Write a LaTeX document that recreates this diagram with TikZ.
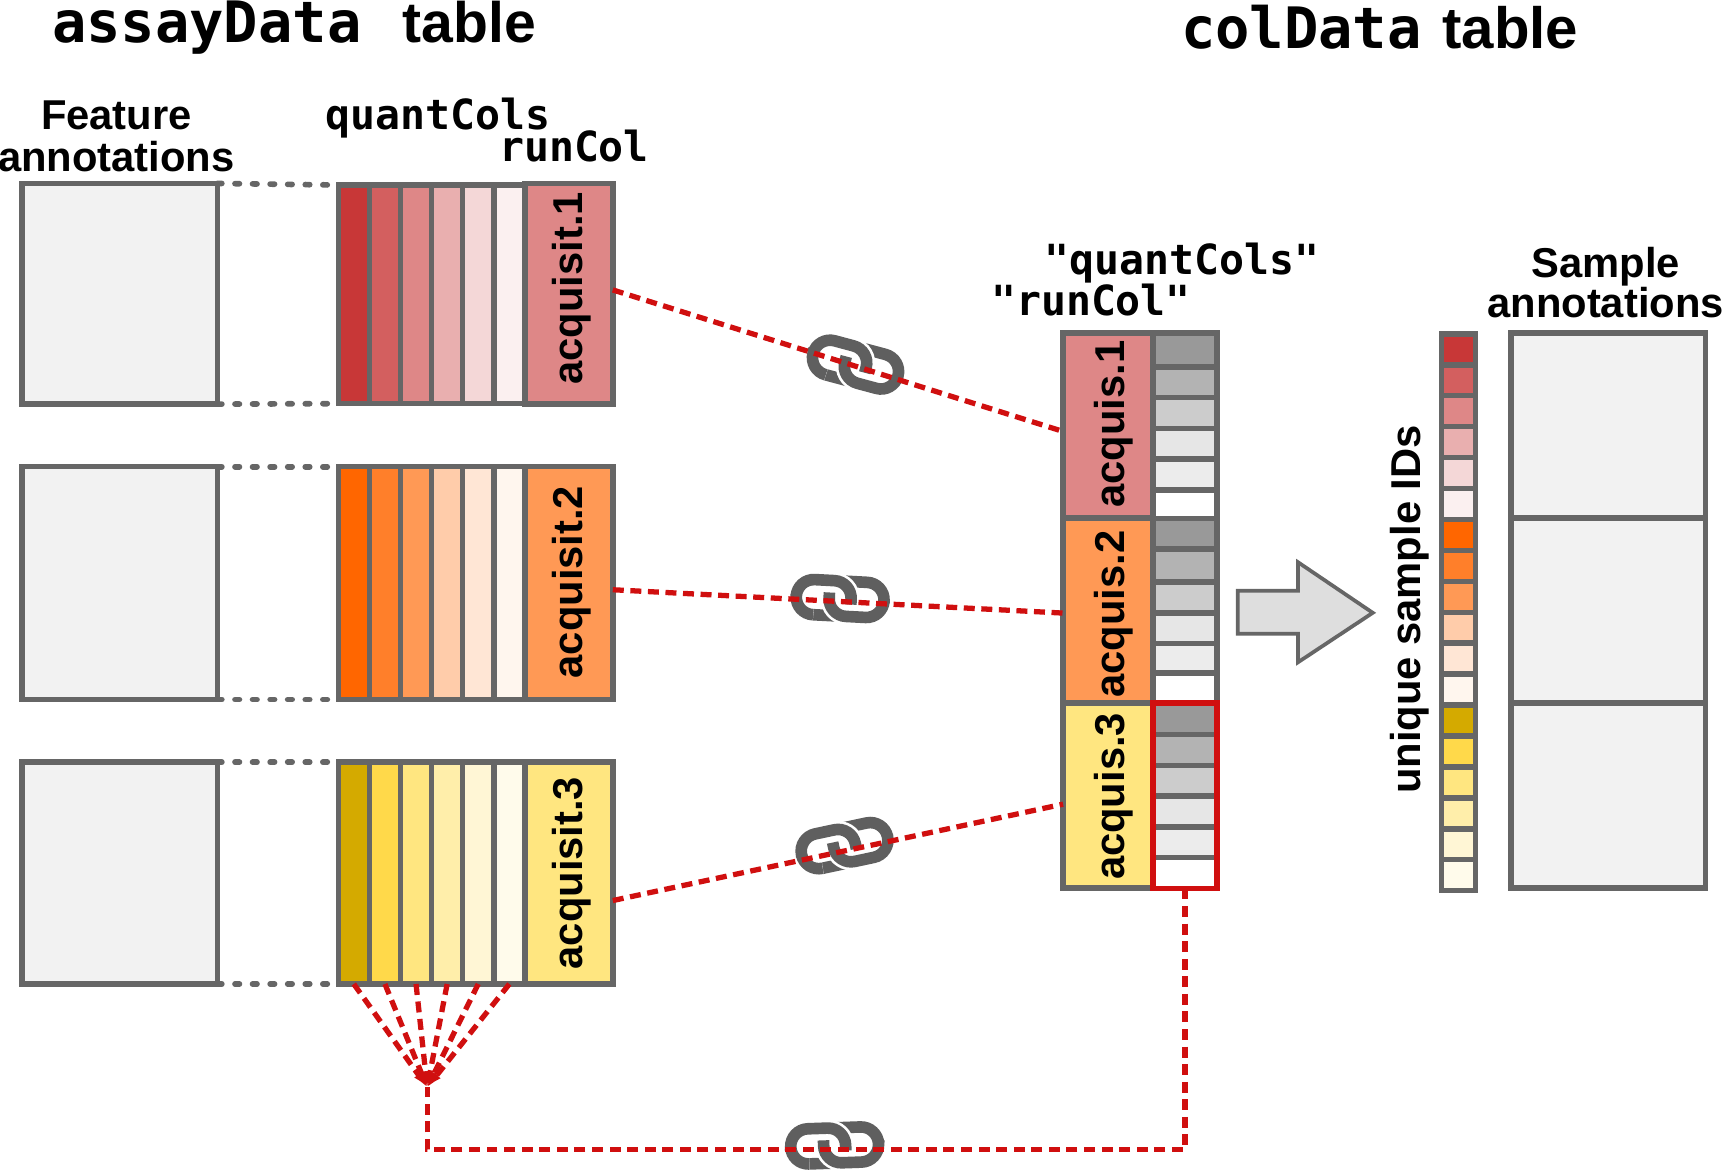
\documentclass[tikz,border=0pt]{standalone}
\usepackage{fontspec}
\setmainfont{Liberation Sans}
\newfontfamily\monofnt{DejaVu Sans Mono}
\usepackage{xcolor}
\usetikzlibrary{arrows.meta,positioning,calc}

\definecolor{edgegray}{HTML}{666666}
\definecolor{linkgray}{HTML}{5F5F5F}
\definecolor{boxgray}{HTML}{F2F2F2}
\definecolor{arrowgray}{HTML}{DEDEDE}
\definecolor{linkred}{HTML}{D00F0F}
% colour ramps, one per acquisition
\definecolor{c11}{HTML}{C83737}\definecolor{c12}{HTML}{D35F5F}\definecolor{c13}{HTML}{DE8787}
\definecolor{c14}{HTML}{E9AFAF}\definecolor{c15}{HTML}{F4D7D7}\definecolor{c16}{HTML}{FBF0F0}
\definecolor{c21}{HTML}{FF6600}\definecolor{c22}{HTML}{FF7F2A}\definecolor{c23}{HTML}{FF9955}
\definecolor{c24}{HTML}{FFCCAA}\definecolor{c25}{HTML}{FFE6D5}\definecolor{c26}{HTML}{FFF6EE}
\definecolor{c31}{HTML}{D4AA00}\definecolor{c32}{HTML}{FFD94A}\definecolor{c33}{HTML}{FFE680}
\definecolor{c34}{HTML}{FFEEAA}\definecolor{c35}{HTML}{FFF6D5}\definecolor{c36}{HTML}{FFFBEB}
\definecolor{g1}{HTML}{999999}\definecolor{g2}{HTML}{B3B3B3}\definecolor{g3}{HTML}{CCCCCC}
\definecolor{g4}{HTML}{E6E6E6}\definecolor{g5}{HTML}{ECECEC}\definecolor{g6}{HTML}{FFFFFF}

\tikzset{
  ringline/.style={line width=5.3pt, linkgray, rounded corners=8pt},
  ringhalo/.style={line width=7.7pt, white, rounded corners=8pt},
  linkicon/.pic={
    \draw [ringline] (-2,16) -- (-26,16);
    \draw [ringhalo] (2,-16) -- (40,-16) -- (40,16) -- (-10,16) -- (-10,-5);
    \draw [ringline] (2,-16) -- (40,-16) -- (40,16) -- (-10,16) -- (-10,-5);
    \draw [ringhalo] (-26,16) -- (-40,16) -- (-40,-16) -- (10,-16) -- (10,5);
    \draw [ringline] (-25,16) -- (-40,16) -- (-40,-16) -- (10,-16) -- (10,5);
  }
}

\begin{document}
\begin{tikzpicture}[x=0.5pt, y=-0.5pt]
    \tikzstyle{cell} = [rectangle, draw=edgegray, line width=2.5pt, inner sep=0pt, outer sep=0pt, anchor=north west]
    \tikzstyle{head} = [inner sep=0pt, font=\fontsize{26}{28}\selectfont\bfseries]
    \tikzstyle{lab} = [inner sep=0pt, align=center, font=\fontsize{19}{19}\selectfont\bfseries]
    \tikzstyle{code} = [inner sep=0pt, anchor=base west, font=\fontsize{18.9}{19}\selectfont\monofnt\bfseries]
    \tikzstyle{side} = [lab, rotate=90]
    \tikzstyle{dotted line} = [draw=edgegray, line width=2.6pt, line cap=round, dash pattern=on 2pt off 6pt]
    \tikzstyle{line} = [draw=linkred, line width=2.4pt, dash pattern=on 5pt off 3pt]

    \useasboundingbox (0,0) rectangle (1568,1064.5);

    % assay tables
    \foreach \r/\top/\high/\qtop/\qhigh/\shift in {1/167/201/168.5/199/-5, 2/425/212/425/212/-1, 3/694/202/694/202/0} {
        \node [cell, fill=boxgray, minimum width=178*0.5pt, minimum height=\high*0.5pt] (feat\r) at (20,\top) {};
        \foreach \c in {1,...,6} {
            \node [cell, fill=c\r\c, minimum width=28.33*0.5pt, minimum height=\qhigh*0.5pt] (quant\r\c) at ({308+(\c-1)*28.33},\qtop) {};
        }
        \node [cell, fill=c\r3, minimum width=80*0.5pt, minimum height=\high*0.5pt] (run\r) at (478,\top) {};
        \node [side] (runtext\r) at ($(run\r)+(2.5,\shift)$) {acquisit.\r};
        \draw [dotted line] (feat\r.north east) -- (quant\r1.north west);
        \draw [dotted line] (feat\r.south east) -- (quant\r1.south west);
    }

    % colData table
    \foreach \r/\top/\shift in {1/303/-1, 2/472/3, 3/640/1} {
        \node [cell, fill=c\r3, minimum width=82*0.5pt, minimum height=168.5*0.5pt] (colrun\r) at (968,\top) {};
        \node [side] (coltext\r) at ($(colrun\r)+(5,\shift)$) {acquis.\r};
    }
    \foreach \r/\c/\top/\high in {1/1/303/31, 1/2/334/28, 1/3/362/28, 1/4/390/28, 1/5/418/28, 1/6/446/26,
                                  2/1/472/28, 2/2/500/30, 2/3/530/28, 2/4/558/28, 2/5/586/27, 2/6/613/27,
                                  3/1/640/29, 3/2/669/28, 3/3/697/28, 3/4/725/28, 3/5/753/28, 3/6/781/28} {
        \node [cell, fill=g\c, minimum width=58*0.5pt, minimum height=\high*0.5pt] (colq\r\c) at (1050,\top) {};
    }
    \node [cell, draw=linkred, minimum width=58*0.5pt, minimum height=169*0.5pt] (redbox) at (1050,640) {};

    % unique ids and sample annotations
    \foreach \r/\top in {1/304, 2/473, 3/642} {
        \foreach \c in {1,...,6} {
            \node [cell, fill=c\r\c, minimum width=31*0.5pt, minimum height=28.17*0.5pt] (ids\r\c) at (1312.5,{\top+(\c-1)*28.17}) {};
        }
    }
    \foreach \r/\top in {1/303, 2/471.5, 3/640} {
        \node [cell, fill=boxgray, minimum width=177*0.5pt, minimum height=168.7*0.5pt] (samp\r) at (1376,\top) {};
    }
    \draw [draw=edgegray, fill=arrowgray, line width=1.7pt] (1127,538) -- (1182,538) -- (1182,512) -- (1250,558) -- (1182,603) -- (1182,577) -- (1127,577) -- cycle;

    % chain icons go under the red lines
    \pic [rotate=-15] at (779,332) {linkicon};
    \pic [rotate=-3] at (765,545) {linkicon};
    \pic [rotate=12] at (769,770) {linkicon};
    \pic [rotate=2] at (760,1043) {linkicon};

    \coordinate (fanTip) at (389,990);
    \coordinate (fanCorner) at (389,1047);
    \draw [line] ([yshift=1.75pt]run1.east) -- ([yshift=-2.8pt]colrun1.west);
    \draw [line] ([yshift=-3pt]run2.east) -- ([yshift=-1pt]colrun2.west);
    \draw [line] ([yshift=-12.5pt]run3.east) -- ([yshift=-4pt]colrun3.west);
    \foreach \c in {1,...,6} {
        \draw [line, -{Latex[length=7pt,width=4.6pt]}] (quant3\c.south) -- (fanTip);
    }
    \draw [line] (redbox.south) |- (fanCorner) -- (fanTip);

    % titles
    \node [head, anchor=base west] (assayTitle) at (47,39) {\monofnt assayData\hspace{0.72em}\rmfamily table};
    \node [head, anchor=base west] (colTitle) at (1075,44) {\monofnt colData\hspace{0.36em}\rmfamily\fontsize{26.5}{28}\selectfont table};
    \node [lab, anchor=base] (featTop) at (106,118) {Feature};
    \node [lab, anchor=base] (featBot) at (106,156) {annotations};
    \node [lab, anchor=base] (sampTop) at (1462,252.5) {Sample};
    \node [lab, anchor=base] (sampBot) at (1462,289.5) {annotations};
    \node [code] (quantLab) at (296,118) {quantCols};
    \node [code] (runLab) at (454,147) {runCol};
    \node [code] (quantCol) at (951,249.5) {"quantCols"};
    \node [code] (runCol) at (902,287.5) {"runCol"};
    \node [side] (idsLab) at (1284,555) {unique sample IDs};
\end{tikzpicture}
\end{document}
